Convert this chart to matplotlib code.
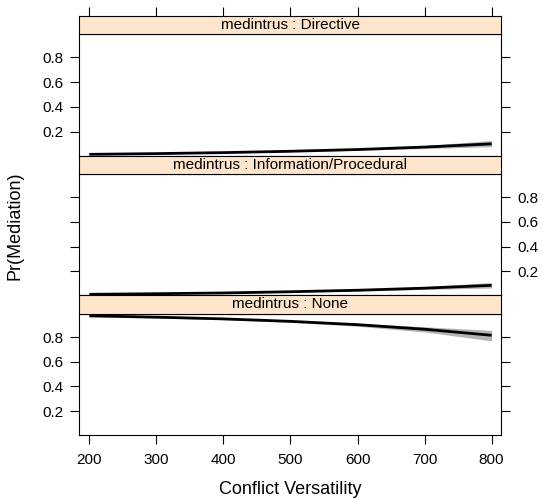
import matplotlib
matplotlib.use('Agg')
import matplotlib.pyplot as plt

plt.rcParams['font.family'] = ['Liberation Sans', 'DejaVu Sans']

# predicted probabilities
versatility = [200, 300, 400, 500, 600, 700, 800]

directive = [0.015, 0.021, 0.029, 0.040, 0.054, 0.074, 0.100]
directive_lo = [0.012, 0.018, 0.026, 0.036, 0.048, 0.062, 0.077]
directive_hi = [0.019, 0.024, 0.032, 0.043, 0.060, 0.086, 0.128]

info = [0.012, 0.017, 0.023, 0.033, 0.045, 0.062, 0.085]
info_lo = [0.009, 0.014, 0.021, 0.029, 0.039, 0.052, 0.063]
info_hi = [0.016, 0.020, 0.026, 0.036, 0.051, 0.074, 0.108]

none = [0.973, 0.962, 0.948, 0.928, 0.901, 0.864, 0.815]
none_lo = [0.964, 0.955, 0.941, 0.920, 0.888, 0.842, 0.770]
none_hi = [0.980, 0.968, 0.953, 0.935, 0.912, 0.884, 0.855]

strip_names = ["medintrus : Directive",
               "medintrus : Information/Procedural",
               "medintrus : None"]

W, H = 543, 499
fig = plt.figure(figsize=(W / 100, H / 100), dpi=100)
L, R = 79.3 / W, 501 / W


def box(top, bot):
    return [L, 1 - bot / H, R - L, (bot - top) / H]


XLIM = (185, 814)
YLIM = (0.004, 0.99)
TL = 6.6
FS = 11

# (strip top, strip bottom, panel bottom)
layout = [(15.7, 34, 155.7), (155.7, 174, 295.3), (295.3, 313.7, 435.3)]
series = [(directive, directive_lo, directive_hi),
          (info, info_lo, info_hi),
          (none, none_lo, none_hi)]

for i, ((st, sb, pb), (fit, lo, hi)) in enumerate(zip(layout, series)):
    ax = fig.add_axes(box(sb, pb))
    ax.fill_between(versatility, lo, hi, color='#b4b4b4', lw=0)
    ax.plot(versatility, fit, color='black', lw=2, solid_capstyle='butt')
    ax.set_xlim(*XLIM)
    ax.set_ylim(*YLIM)
    ax.set_yticks([0.2, 0.4, 0.6, 0.8])
    ax.set_yticklabels(['0.2', '0.4', '0.6', '0.8'])
    labels_left = (i != 1)
    ax.tick_params(axis='y', direction='out', length=TL, width=0.8,
                   labelsize=FS, pad=5, left=True, right=True,
                   labelleft=labels_left, labelright=not labels_left)
    ax.set_xticks([200, 300, 400, 500, 600, 700, 800])
    if i == 2:
        ax.tick_params(axis='x', direction='out', length=TL, width=0.8,
                       labelsize=FS, pad=6, bottom=True, top=False)
    else:
        ax.tick_params(axis='x', bottom=False, top=False,
                       labelbottom=False)
    for sp in ax.spines.values():
        sp.set_linewidth(0.8)

    sax = fig.add_axes(box(st, sb))
    sax.set_facecolor('#ffe5cc')
    sax.set_xlim(*XLIM)
    sax.set_yticks([])
    sax.text(0.5, 0.5, strip_names[i], transform=sax.transAxes,
             ha='center', va='center', fontsize=FS)
    for sp in sax.spines.values():
        sp.set_linewidth(0.8)
    if i == 0:
        sax.set_xticks([200, 300, 400, 500, 600, 700, 800])
        sax.tick_params(axis='x', direction='out', length=TL, width=0.8,
                        bottom=False, top=True, labelbottom=False,
                        labeltop=False)
    else:
        sax.set_xticks([])

fig.text(290 / W, 1 - 494.5 / H, "Conflict Versatility", ha='center',
         va='baseline', fontsize=13)
fig.text(15 / W, 1 - 225.5 / H, "Pr(Mediation)", ha='center', va='center',
         rotation=90, fontsize=13)

fig.savefig('out.png', dpi=100)
